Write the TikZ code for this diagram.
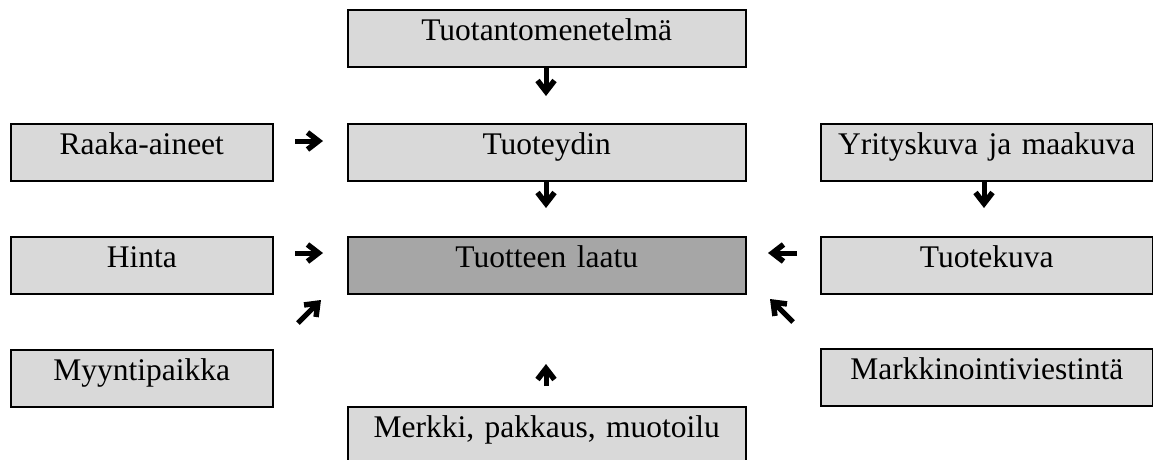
\documentclass[tikz,border=0pt]{standalone}
\usepackage{fontspec}
\setmainfont{Liberation Serif}
\usetikzlibrary{arrows.meta}
\definecolor{lightbox}{HTML}{D9D9D9}
\definecolor{darkbox}{HTML}{A6A6A6}
\tikzset{
  box/.style={draw=black, line width=1.5pt, fill=lightbox, inner sep=0pt,
    text height=31pt, text depth=26pt, align=center, anchor=north west,
    font=\fontsize{31.5}{36}\selectfont},
  wide/.style={minimum width=398pt, text width=398pt},
  side/.style={minimum width=262pt, text width=262pt},
  rside/.style={minimum width=332pt, text width=332pt},
  warrow/.style={line width=5pt,
    -{Straight Barb[length=11pt, width=17pt, line width=5.5pt]}},
}
\begin{document}
\begin{tikzpicture}[x=1pt, y=-1pt]
\useasboundingbox (0,0) rectangle (1153,459);
\clip (0,0) rectangle (1153,459);
% boxes
\node[box, wide] (tm) at (347,9) {Tuotantomenetelmä};
\node[box, side] (ra) at (10,123) {Raaka-aineet};
\node[box, wide] (ty) at (347,123) {Tuoteydin};
\node[box, rside] (ym) at (820,123) {Yrityskuva ja maakuva};
\node[box, side] (hi) at (10,236) {Hinta};
\node[box, wide, fill=darkbox] (tl) at (347,236) {Tuotteen laatu};
\node[box, rside] (tk) at (820,236) {Tuotekuva};
\node[box, side] (my) at (10,349) {Myyntipaikka};
\node[box, rside] (mv) at (820,348) {Markkinointiviestintä};
\node[box, wide, minimum height=60pt, text depth=29pt] (mp) at (347,406) {Merkki, pakkaus, muotoilu};
% arrow end points
\coordinate (a1s) at (546,68);  \coordinate (a1e) at (546,96);
\coordinate (a2s) at (546,182); \coordinate (a2e) at (546,208);
\coordinate (a3s) at (984,182); \coordinate (a3e) at (984,208);
\coordinate (a4s) at (295,141); \coordinate (a4e) at (323,141);
\coordinate (a5s) at (295,253); \coordinate (a5e) at (323,253);
\coordinate (a6s) at (797,253); \coordinate (a6e) at (768,253);
\coordinate (a7s) at (298,323); \coordinate (a7e) at (321,300);
\coordinate (a8s) at (793,322); \coordinate (a8e) at (770,299);
\coordinate (a9s) at (546,386); \coordinate (a9e) at (546,364);
\draw[warrow] (a1s) -- (a1e);
\draw[warrow] (a2s) -- (a2e);
\draw[warrow] (a3s) -- (a3e);
\draw[warrow] (a4s) -- (a4e);
\draw[warrow] (a5s) -- (a5e);
\draw[warrow] (a6s) -- (a6e);
\draw[warrow] (a7s) -- (a7e);
\draw[warrow] (a8s) -- (a8e);
\draw[warrow] (a9s) -- (a9e);
\end{tikzpicture}
\end{document}
